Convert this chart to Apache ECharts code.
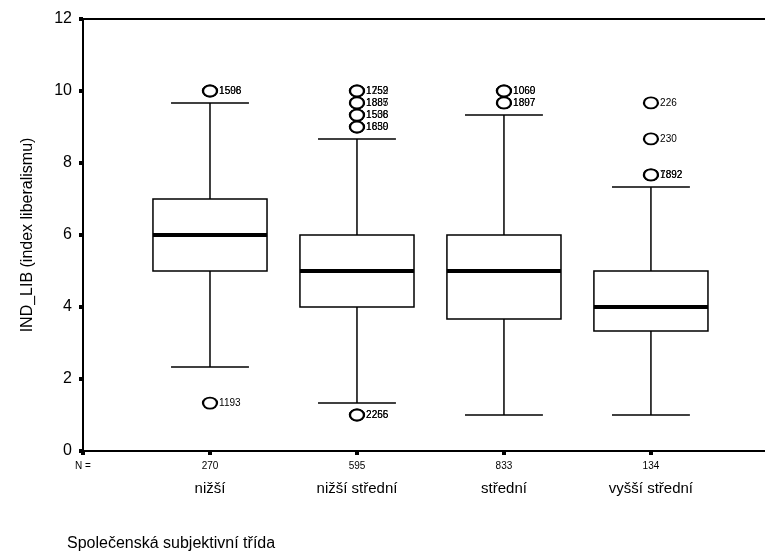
<!DOCTYPE html>
<html><head><meta charset="utf-8">
<script src="https://cdn.jsdelivr.net/npm/echarts@6/dist/echarts.min.js"></script>
<style>html,body{margin:0;padding:0;background:#fff}#c{width:765px;height:551px}</style>
</head><body><div id="c"></div>
<script>
const categories = ['nižší', 'nižší střední', 'střední', 'vyšší střední'];
const counts = [270, 595, 833, 134];
const lowerWhisker = [2.33, 1.33, 1.0, 1.0];
const q1 = [5.0, 4.0, 3.67, 3.33];
const median = [6.0, 5.0, 5.0, 4.0];
const q3 = [7.0, 6.0, 6.0, 5.0];
const upperWhisker = [9.67, 8.67, 9.33, 7.33];
// outliers: [categoryIndex, value, case label]
const outliers = [
  [0, 10, '1598'], [0, 10, '1506'], [0, 1.33, '1193'],
  [1, 10, '1759'], [1, 10, '1252'], [1, 9.67, '1885'], [1, 9.67, '1887'],
  [1, 9.33, '1506'], [1, 9.33, '1538'], [1, 9.0, '1659'], [1, 9.0, '1830'],
  [1, 1.0, '2255'], [1, 1.0, '2266'],
  [2, 10, '1060'], [2, 10, '1069'], [2, 9.67, '1897'], [2, 9.67, '1807'],
  [3, 9.67, '226'], [3, 8.67, '230'], [3, 7.67, '1892'], [3, 7.67, '7892']
];
const yTicks = [0, 2, 4, 6, 8, 10, 12];

const FONT = 'Liberation Sans, Arial, sans-serif';
const xMin = -0.864, xMax = 3.776;
const boxHalf = 0.388, capHalf = 0.265;

const boxData = categories.map((c, i) => [i, lowerWhisker[i], q1[i], median[i], q3[i], upperWhisker[i]]);
const tickVals = [xMin, 0, 1, 2, 3];

const chart = echarts.init(document.getElementById('c'));
chart.setOption({
  animation: false,
  backgroundColor: '#fff',
  title: {
    text: 'Společenská subjektivní třída',
    left: 62, top: 531,
    textStyle: { fontFamily: FONT, fontSize: 16, fontWeight: 'normal', color: '#000' }
  },
  grid: { left: 83, right: 0, top: 19, bottom: 100 },
  xAxis: [{
    type: 'value', min: xMin, max: xMax, position: 'bottom',
    splitLine: { show: false },
    axisLine: { show: true, onZero: false, lineStyle: { color: '#000', width: 2 } },
    axisTick: { show: true, customValues: tickVals, length: 4, lineStyle: { color: '#000', width: 4 } },
    axisLabel: {
      customValues: tickVals, margin: 8,
      formatter: function (v) {
        if (v < -0.5) return '{n|N =}';
        const i = Math.round(v);
        return '{n|' + counts[i] + '}\n{c|' + categories[i] + '}';
      },
      rich: {
        n: { fontFamily: FONT, fontSize: 10, lineHeight: 14, color: '#000' },
        c: { fontFamily: FONT, fontSize: 15, lineHeight: 32, color: '#000' }
      }
    }
  }, {
    type: 'value', min: xMin, max: xMax, position: 'top',
    splitLine: { show: false },
    axisLine: { show: true, onZero: false, lineStyle: { color: '#000', width: 2 } },
    axisTick: { show: false }, axisLabel: { show: false }
  }],
  yAxis: {
    type: 'value', min: 0, max: 12, interval: 2, position: 'left',
    name: 'IND_LIB (index liberalismu)', nameLocation: 'middle', nameGap: 47,
    nameTextStyle: { fontFamily: FONT, fontSize: 16, color: '#000' },
    splitLine: { show: false },
    axisLine: { show: true, onZero: false, lineStyle: { color: '#000', width: 2 } },
    axisTick: { show: true, length: 4, lineStyle: { color: '#000', width: 4 } },
    axisLabel: { fontFamily: FONT, fontSize: 16, color: '#000', margin: 11 }
  },
  series: [{
    type: 'custom',
    data: boxData,
    renderItem: function (params, api) {
      const x = api.value(0);
      const lw = api.value(1), a = api.value(2), m = api.value(3), b = api.value(4), uw = api.value(5);
      const pL = api.coord([x - boxHalf, b]);
      const pR = api.coord([x + boxHalf, a]);
      const cL = api.coord([x - capHalf, uw]);
      const cR = api.coord([x + capHalf, lw]);
      const pc = api.coord([x, m]);
      const mL = api.coord([x - boxHalf, m]);
      const mR = api.coord([x + boxHalf, m]);
      const ls = { stroke: '#000', lineWidth: 1.5, fill: null };
      return {
        type: 'group',
        children: [
          { type: 'line', shape: { x1: pc[0], y1: cL[1], x2: pc[0], y2: pL[1] }, style: ls },
          { type: 'line', shape: { x1: pc[0], y1: pR[1], x2: pc[0], y2: cR[1] }, style: ls },
          { type: 'line', shape: { x1: cL[0], y1: cL[1], x2: cR[0], y2: cL[1] }, style: ls },
          { type: 'line', shape: { x1: cL[0], y1: cR[1], x2: cR[0], y2: cR[1] }, style: ls },
          { type: 'rect', shape: { x: pL[0], y: pL[1], width: pR[0] - pL[0], height: pR[1] - pL[1] },
            style: { stroke: '#000', lineWidth: 1.5, fill: '#fff' } },
          { type: 'line', shape: { x1: mL[0], y1: mL[1], x2: mR[0], y2: mR[1] },
            style: { stroke: '#000', lineWidth: 4 } }
        ]
      };
    }
  }, {
    type: 'scatter',
    data: outliers.map(o => ({ value: [o[0], o[1]], name: o[2] })),
    symbol: 'circle',
    symbolSize: [14, 11],
    itemStyle: { color: '#fff', borderColor: '#000', borderWidth: 2, opacity: 1 },
    label: {
      show: true, position: 'right', distance: 1,
      formatter: p => p.name,
      fontFamily: FONT, fontSize: 10, color: '#000'
    },
    z: 5
  }]
});
</script>
</body></html>
